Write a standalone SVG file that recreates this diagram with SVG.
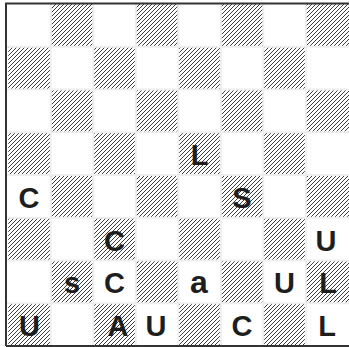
<svg xmlns="http://www.w3.org/2000/svg" width="349" height="347" viewBox="0 0 349 347">
<style>
.h{fill:url(#hatch)}
.g{stroke:#eeeeee;stroke-width:2}
.b{stroke:#333;stroke-width:2;fill:none}
.t{font-family:"Liberation Sans",Arial,sans-serif;font-weight:bold;font-size:29px;fill:#1e1e1e;text-anchor:middle}
.lc{font-size:32px}
</style>
<defs>
<pattern id="hatch" patternUnits="userSpaceOnUse" width="4" height="4">
<path d="M-1,1 L1,-1 M0,4 L4,0 M3,5 L5,3" stroke="#333" stroke-width="0.95"/>
</pattern>
</defs>
<rect width="349" height="347" fill="#fff"/>
<g id="hatched-squares">
<rect class="h" x="50.8" y="4" width="42.5" height="42.75"/>
<rect class="h" x="135.8" y="4" width="42.5" height="42.75"/>
<rect class="h" x="220.8" y="4" width="42.5" height="42.75"/>
<rect class="h" x="305.8" y="4" width="43.2" height="42.75"/>
<rect class="h" x="8.3" y="46.75" width="42.5" height="42.75"/>
<rect class="h" x="93.3" y="46.75" width="42.5" height="42.75"/>
<rect class="h" x="178.3" y="46.75" width="42.5" height="42.75"/>
<rect class="h" x="263.3" y="46.75" width="42.5" height="42.75"/>
<rect class="h" x="50.8" y="89.5" width="42.5" height="42.75"/>
<rect class="h" x="135.8" y="89.5" width="42.5" height="42.75"/>
<rect class="h" x="220.8" y="89.5" width="42.5" height="42.75"/>
<rect class="h" x="305.8" y="89.5" width="43.2" height="42.75"/>
<rect class="h" x="8.3" y="132.25" width="42.5" height="42.75"/>
<rect class="h" x="93.3" y="132.25" width="42.5" height="42.75"/>
<rect class="h" x="178.3" y="132.25" width="42.5" height="42.75"/>
<rect class="h" x="263.3" y="132.25" width="42.5" height="42.75"/>
<rect class="h" x="50.8" y="175" width="42.5" height="42.75"/>
<rect class="h" x="135.8" y="175" width="42.5" height="42.75"/>
<rect class="h" x="220.8" y="175" width="42.5" height="42.75"/>
<rect class="h" x="305.8" y="175" width="43.2" height="42.75"/>
<rect class="h" x="8.3" y="217.75" width="42.5" height="42.75"/>
<rect class="h" x="93.3" y="217.75" width="42.5" height="42.75"/>
<rect class="h" x="178.3" y="217.75" width="42.5" height="42.75"/>
<rect class="h" x="263.3" y="217.75" width="42.5" height="42.75"/>
<rect class="h" x="50.8" y="260.5" width="42.5" height="42.75"/>
<rect class="h" x="135.8" y="260.5" width="42.5" height="42.75"/>
<rect class="h" x="220.8" y="260.5" width="42.5" height="42.75"/>
<rect class="h" x="305.8" y="260.5" width="43.2" height="42.75"/>
<rect class="h" x="8.3" y="303.25" width="42.5" height="42.75"/>
<rect class="h" x="93.3" y="303.25" width="42.5" height="42.75"/>
<rect class="h" x="178.3" y="303.25" width="42.5" height="42.75"/>
<rect class="h" x="263.3" y="303.25" width="42.5" height="42.75"/>
</g>
<g id="grid">
<path class="g" d="M6,46.75H349M6,89.5H349M6,132.25H349M6,175H349M6,217.75H349M6,260.5H349M6,303.25H349"/>
<path class="g" d="M50.8,4V346M93.3,4V346M135.8,4V346M178.3,4V346M220.8,4V346M263.3,4V346M305.8,4V346"/>
</g>
<g id="border">
<path class="b" d="M6,346V3.5H349M6,346H349"/>
</g>
<g id="letters">
<text class="t" x="199.5" y="165">L</text>
<text class="t" x="29" y="207.5">C</text>
<text class="t" x="242" y="207.5">S</text>
<text class="t" x="114.5" y="250.5">C</text>
<text class="t" x="326" y="250.5">U</text>
<text class="t" x="72" y="293">s</text>
<text class="t" x="114.5" y="293">C</text>
<text class="t lc" x="199" y="293">a</text>
<text class="t" x="284.5" y="293">U</text>
<text class="t" x="328" y="293">L</text>
<text class="t" x="29.5" y="335.5">U</text>
<text class="t" x="118" y="335.5">A</text>
<text class="t" x="156" y="335.5">U</text>
<text class="t" x="242" y="335.5">C</text>
<text class="t" x="327" y="335.5">L</text>
</g>
</svg>
